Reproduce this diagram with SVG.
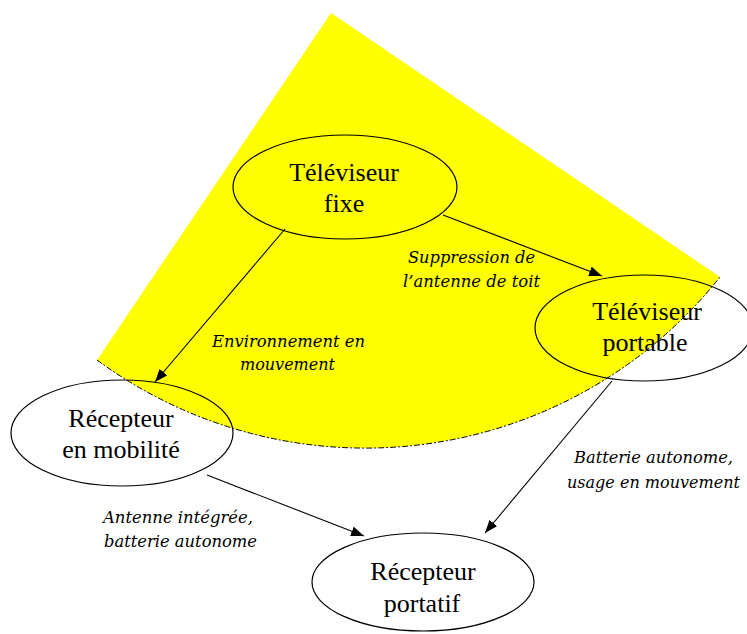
<svg xmlns="http://www.w3.org/2000/svg" width="747" height="634" viewBox="0 0 747 634">
<style>
.node{fill:none;stroke:#000;stroke-width:1.2}
.nt{font-family:"Liberation Serif","Times New Roman",serif;font-size:26px;fill:#000;text-anchor:middle}
.lb{font-family:"DejaVu Serif",serif;font-style:italic;font-size:16px;fill:#000}
.conn{stroke:#000;stroke-width:1.1;fill:none;marker-end:url(#ah)}
</style>
<defs>
<marker id="ah" markerUnits="userSpaceOnUse" markerWidth="14" markerHeight="10" refX="13" refY="5" orient="auto">
<path d="M0,0 L13,5 L0,10 Z" fill="#000"/>
</marker>
</defs>
<rect width="747" height="634" fill="#fff"/>
<g id="zone">
<path d="M331,13 L97,360 A453,453 0 0,0 720,277 Z" fill="#ffff00"/>
<path d="M97,360 A453,453 0 0,0 720,277" fill="none" stroke="#000" stroke-width="1" stroke-dasharray="6 2 2 2"/>
</g>
<g id="tv-fixe">
<ellipse class="node" cx="345" cy="187" rx="112" ry="52"/>
<text class="nt" x="344" y="181">Téléviseur</text>
<text class="nt" x="344" y="212">fixe</text>
</g>
<g id="tv-portable">
<ellipse class="node" cx="644" cy="328" rx="109" ry="53"/>
<text class="nt" x="647" y="320">Téléviseur</text>
<text class="nt" x="645" y="351">portable</text>
</g>
<g id="recepteur-mobilite">
<ellipse class="node" cx="122" cy="433" rx="111" ry="53"/>
<text class="nt" x="121" y="427">Récepteur</text>
<text class="nt" x="121" y="458">en mobilité</text>
</g>
<g id="recepteur-portatif">
<ellipse class="node" cx="423" cy="582" rx="111" ry="49"/>
<text class="nt" x="423" y="580">Récepteur</text>
<text class="nt" x="422" y="612">portatif</text>
</g>
<g id="connectors">
<line class="conn" x1="285" y1="229" x2="155" y2="382"/>
<line class="conn" x1="443" y1="215" x2="602" y2="276"/>
<line class="conn" x1="207" y1="475" x2="364" y2="536"/>
<line class="conn" x1="612" y1="381" x2="485" y2="533"/>
</g>
<g id="labels">
<text class="lb" x="408" y="263" textLength="127" lengthAdjust="spacingAndGlyphs">Suppression de</text>
<text class="lb" x="403" y="287" textLength="137" lengthAdjust="spacingAndGlyphs">l’antenne de toit</text>
<text class="lb" x="212" y="347" textLength="153" lengthAdjust="spacingAndGlyphs">Environnement en</text>
<text class="lb" x="240" y="370" textLength="95" lengthAdjust="spacingAndGlyphs">mouvement</text>
<text class="lb" x="103" y="523" textLength="150" lengthAdjust="spacingAndGlyphs">Antenne intégrée,</text>
<text class="lb" x="104" y="547" textLength="153" lengthAdjust="spacingAndGlyphs">batterie autonome</text>
<text class="lb" x="574" y="463" textLength="159" lengthAdjust="spacingAndGlyphs">Batterie autonome,</text>
<text class="lb" x="567" y="488" textLength="173" lengthAdjust="spacingAndGlyphs">usage en mouvement</text>
</g>
</svg>
